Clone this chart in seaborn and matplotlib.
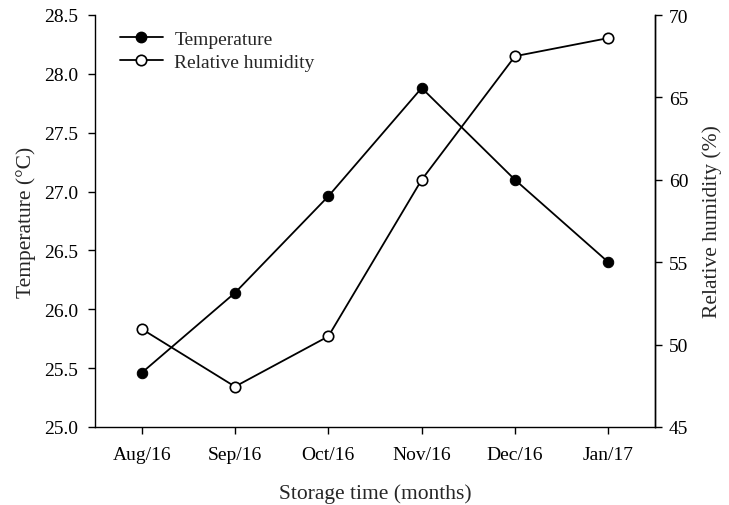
import matplotlib
matplotlib.use("Agg")
import matplotlib.pyplot as plt
import seaborn as sns
import pandas as pd
from matplotlib.lines import Line2D

months = ["Aug/16", "Sep/16", "Oct/16", "Nov/16", "Dec/16", "Jan/17"]
temperature = [25.46, 26.14, 26.96, 27.88, 27.10, 26.40]
humidity = [50.95, 47.45, 50.5, 60.0, 67.5, 68.6]

sns.set_style("white")
plt.rcParams["font.family"] = ["Liberation Serif", "DejaVu Serif"]

df = pd.DataFrame({"pos": range(len(months)), "month": months,
                   "temperature": temperature, "humidity": humidity})

fig = plt.figure(figsize=(7.29, 5.06), dpi=100)
ax = fig.add_axes([95 / 729, 1 - 428 / 506, (655 - 95) / 729, (428 - 16) / 506])
ax2 = ax.twinx()

sns.lineplot(data=df, x="pos", y="temperature", ax=ax, color="black", lw=1.3,
             marker="o", markersize=7.5, markerfacecolor="black",
             markeredgecolor="black")
sns.lineplot(data=df, x="pos", y="humidity", ax=ax2, color="black", lw=1.3,
             marker="o", markersize=7.5, markerfacecolor="white",
             markeredgecolor="black", markeredgewidth=1.2)

ax.set_xlim(-0.5, 5.5)
ax.set_ylim(25.0, 28.5)
ax.set_yticks([25.0, 25.5, 26.0, 26.5, 27.0, 27.5, 28.0, 28.5])
ax.set_yticklabels([f"{v:.1f}" for v in ax.get_yticks()])
ax.set_xticks(range(len(months)))
ax.set_xticklabels(months)
ax2.set_ylim(45, 70)
ax2.set_yticks([45, 50, 55, 60, 65, 70])

ax.set_xlabel("Storage time (months)", fontsize=15.5, labelpad=14)
ax.set_ylabel("Temperature (°C)", fontsize=15.5, labelpad=6)
ax2.set_ylabel("Relative humidity (%)", fontsize=15.5, labelpad=10)

for a in (ax, ax2):
    a.spines["top"].set_visible(False)
    for s in ("left", "right", "bottom"):
        a.spines[s].set_color("black")
        a.spines[s].set_linewidth(1.0)
    a.tick_params(axis="both", direction="out", length=5, width=1,
                  colors="black", labelsize=14)
ax2.spines["left"].set_visible(False)
ax2.spines["bottom"].set_visible(False)
ax.tick_params(axis="x", pad=9, bottom=True)
ax.tick_params(axis="y", left=True, right=False, pad=7)
ax2.tick_params(axis="y", right=True, left=False, pad=5)

handles = [
    Line2D([], [], color="black", lw=1.3, marker="o", markersize=7.5,
           markerfacecolor="black", markeredgecolor="black"),
    Line2D([], [], color="black", lw=1.3, marker="o", markersize=7.5,
           markerfacecolor="white", markeredgecolor="black", markeredgewidth=1.2),
]
ax.legend(handles, ["Temperature", "Relative humidity"], loc="upper left",
          bbox_to_anchor=(0.013, 1.005), frameon=False, fontsize=14,
          handlelength=2.2, handletextpad=0.6, labelspacing=0.25)

fig.savefig("out.png", dpi=100)
